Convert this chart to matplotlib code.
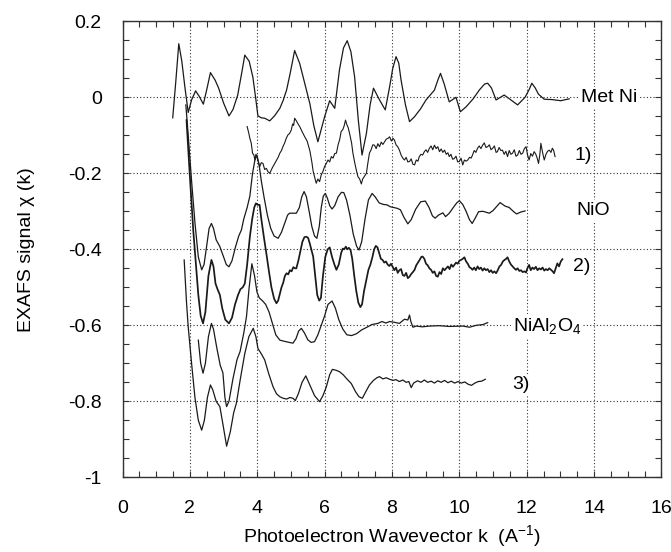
import matplotlib
matplotlib.use('Agg')
import matplotlib.pyplot as plt
from matplotlib.ticker import MultipleLocator, FuncFormatter

plt.rcParams['font.family'] = ['Liberation Sans', 'DejaVu Sans']
plt.rcParams['mathtext.fontset'] = 'custom'
plt.rcParams['mathtext.rm'] = 'Liberation Sans'
plt.rcParams['mathtext.it'] = 'Liberation Sans'

# Met Ni foil
k_ni = [1.49, 1.58, 1.67, 1.76, 1.85, 1.95, 2.05, 2.17, 2.28, 2.40, 2.50, 2.61, 2.75, 2.85,
        3.00, 3.16, 3.28, 3.42, 3.55, 3.63, 3.76, 3.87, 3.95, 4.02, 4.12, 4.22, 4.37, 4.52,
        4.67, 4.77, 4.87, 4.97, 5.11, 5.26, 5.40, 5.56, 5.68, 5.80, 6.00, 6.15, 6.30, 6.44,
        6.56, 6.67, 6.78, 6.89, 7.00, 7.11, 7.24, 7.35, 7.45, 7.63, 7.80, 7.93, 8.02, 8.12,
        8.20, 8.27, 8.40, 8.52, 8.67, 8.85, 9.01, 9.26, 9.36, 9.44, 9.55, 9.70, 9.90, 10.03,
        10.20, 10.40, 10.60, 10.75, 10.84, 10.95, 11.09, 11.33, 11.50, 11.73, 11.95, 12.07,
        12.15, 12.25, 12.35, 12.52, 12.75, 13.01, 13.26]
chi_ni = [-0.054, 0.040, 0.141, 0.095, 0.028, -0.040, -0.007, 0.017, 0.002, -0.018, 0.020,
          0.065, 0.045, 0.025, -0.015, -0.049, -0.032, 0.006, 0.070, 0.111, 0.095, 0.053,
          0.000, -0.049, -0.054, -0.055, -0.062, -0.048, -0.029, -0.008, 0.019, 0.060,
          0.123, 0.089, 0.040, -0.016, -0.075, -0.117, -0.051, -0.009, -0.029, 0.072,
          0.130, 0.149, 0.120, 0.054, -0.060, -0.152, -0.095, -0.020, 0.024, -0.007,
          -0.033, 0.028, 0.075, 0.107, 0.090, 0.045, -0.020, -0.064, -0.051, -0.030,
          -0.007, 0.019, 0.045, 0.063, 0.035, -0.012, 0.000, -0.038, -0.025, -0.005, 0.020,
          0.035, 0.037, 0.025, -0.007, 0.006, -0.005, -0.020, 0.000, 0.020, 0.037, 0.025,
          0.008, -0.005, -0.006, -0.009, -0.004]

# sample 1)
k_s1 = [3.70, 3.75, 3.78, 3.82, 3.86, 3.90, 3.93, 3.96, 3.99, 4.03, 4.07, 4.12, 4.17, 4.22,
        4.27, 4.32, 4.37, 4.45, 4.52, 4.58, 4.62, 4.67, 4.72, 4.77, 4.81, 4.86, 4.91, 4.96,
        5.01, 5.05, 5.08, 5.11, 5.16, 5.21, 5.26, 5.33, 5.41, 5.48, 5.56, 5.62, 5.66, 5.70,
        5.75, 5.80, 5.85, 5.90, 5.95, 6.00, 6.05, 6.10, 6.15, 6.20, 6.25, 6.30, 6.35, 6.40,
        6.45, 6.49, 6.54, 6.58, 6.62, 6.66, 6.70, 6.74, 6.80, 6.84, 6.90, 6.95, 6.99, 7.04,
        7.09, 7.13, 7.18, 7.24, 7.28, 7.33, 7.38, 7.43, 7.48, 7.53, 7.58, 7.63, 7.68, 7.73,
        7.78, 7.83, 7.88, 7.93, 7.98, 8.03, 8.07, 8.12, 8.17, 8.22, 8.27, 8.32, 8.37, 8.42,
        8.47, 8.52, 8.57, 8.62, 8.67, 8.72, 8.77, 8.81, 8.86, 8.91, 8.96, 9.01, 9.06, 9.11,
        9.16, 9.21, 9.26, 9.31, 9.36, 9.41, 9.46, 9.51, 9.56, 9.61, 9.66, 9.70, 9.75, 9.80,
        9.85, 9.90, 9.95, 10.00, 10.05, 10.10, 10.15, 10.20, 10.25, 10.30, 10.35, 10.39,
        10.44, 10.49, 10.54, 10.59, 10.64, 10.69, 10.74, 10.79, 10.84, 10.89, 10.94, 10.99,
        11.04, 11.09, 11.13, 11.18, 11.23, 11.28, 11.33, 11.38, 11.43, 11.48, 11.53, 11.58,
        11.63, 11.68, 11.73, 11.78, 11.83, 11.88, 11.93, 11.98, 12.02, 12.07, 12.12, 12.17,
        12.22, 12.27, 12.31, 12.35, 12.39, 12.42, 12.47, 12.52, 12.57, 12.62, 12.67, 12.72,
        12.76, 12.80, 12.84]
chi_s1 = [-0.077, -0.095, -0.108, -0.120, -0.147, -0.152, -0.165, -0.150, -0.156, -0.170,
          -0.183, -0.172, -0.174, -0.190, -0.187, -0.196, -0.200, -0.185, -0.174, -0.165,
          -0.158, -0.147, -0.140, -0.128, -0.121, -0.108, -0.099, -0.095, -0.086, -0.070,
          -0.074, -0.055, -0.062, -0.070, -0.077, -0.090, -0.104, -0.115, -0.140, -0.170,
          -0.195, -0.209, -0.226, -0.215, -0.222, -0.204, -0.195, -0.182, -0.174, -0.165,
          -0.170, -0.156, -0.160, -0.148, -0.147, -0.125, -0.110, -0.090, -0.085, -0.075,
          -0.060, -0.072, -0.080, -0.095, -0.120, -0.147, -0.175, -0.195, -0.209, -0.215,
          -0.228, -0.215, -0.208, -0.200, -0.175, -0.147, -0.138, -0.125, -0.126, -0.135,
          -0.122, -0.130, -0.118, -0.124, -0.117, -0.110, -0.108, -0.104, -0.115, -0.108,
          -0.112, -0.125, -0.130, -0.139, -0.152, -0.160, -0.165, -0.158, -0.170, -0.169,
          -0.162, -0.176, -0.178, -0.165, -0.168, -0.156, -0.150, -0.152, -0.143, -0.138,
          -0.145, -0.134, -0.128, -0.138, -0.126, -0.135, -0.130, -0.143, -0.136, -0.145,
          -0.139, -0.150, -0.146, -0.156, -0.150, -0.163, -0.161, -0.155, -0.170, -0.169,
          -0.160, -0.178, -0.165, -0.168, -0.165, -0.158, -0.160, -0.152, -0.140, -0.145,
          -0.134, -0.128, -0.135, -0.126, -0.120, -0.132, -0.130, -0.125, -0.138, -0.134,
          -0.128, -0.145, -0.143, -0.132, -0.140, -0.139, -0.150, -0.142, -0.156, -0.140,
          -0.150, -0.147, -0.138, -0.155, -0.152, -0.140, -0.150, -0.147, -0.135, -0.130,
          -0.150, -0.165, -0.148, -0.155, -0.143, -0.150, -0.160, -0.174, -0.150, -0.121,
          -0.145, -0.165, -0.150, -0.142, -0.139, -0.145, -0.134, -0.140, -0.156]

# NiO reference
k_nio = [1.88, 1.95, 2.05, 2.15, 2.25, 2.35, 2.42, 2.50, 2.57, 2.64, 2.70, 2.78, 2.89, 3.00,
         3.08, 3.16, 3.25, 3.35, 3.45, 3.53, 3.60, 3.70, 3.78, 3.86, 3.93, 3.99, 4.05, 4.12,
         4.20, 4.30, 4.40, 4.50, 4.62, 4.72, 4.82, 4.90, 4.96, 5.06, 5.16, 5.25, 5.32, 5.39,
         5.46, 5.54, 5.62, 5.70, 5.77, 5.84, 5.90, 5.96, 6.02, 6.08, 6.15, 6.22, 6.30, 6.40,
         6.50, 6.57, 6.65, 6.75, 6.85, 6.95, 7.02, 7.10, 7.20, 7.30, 7.41, 7.50, 7.62, 7.75,
         7.85, 7.95, 8.05, 8.15, 8.25, 8.35, 8.47, 8.57, 8.70, 8.85, 8.99, 9.10, 9.20, 9.28,
         9.38, 9.51, 9.59, 9.70, 9.82, 9.92, 10.00, 10.10, 10.20, 10.30, 10.38, 10.47, 10.57,
         10.70, 10.89, 11.00, 11.10, 11.21, 11.35, 11.48, 11.60, 11.70, 11.82, 11.95]
chi_nio = [-0.020, -0.100, -0.220, -0.330, -0.420, -0.454, -0.440, -0.390, -0.345, -0.332,
           -0.345, -0.375, -0.393, -0.420, -0.440, -0.446, -0.430, -0.395, -0.365, -0.349,
           -0.320, -0.290, -0.260, -0.200, -0.165, -0.152, -0.175, -0.220, -0.262, -0.310,
           -0.345, -0.365, -0.371, -0.355, -0.330, -0.310, -0.305, -0.305, -0.305, -0.290,
           -0.262, -0.248, -0.262, -0.300, -0.340, -0.365, -0.371, -0.340, -0.290, -0.260,
           -0.253, -0.265, -0.285, -0.294, -0.285, -0.262, -0.250, -0.251, -0.270, -0.310,
           -0.360, -0.392, -0.402, -0.380, -0.320, -0.270, -0.253, -0.262, -0.278, -0.282,
           -0.283, -0.288, -0.290, -0.292, -0.296, -0.315, -0.333, -0.322, -0.295, -0.275,
           -0.273, -0.290, -0.312, -0.318, -0.310, -0.304, -0.314, -0.305, -0.290, -0.278,
           -0.272, -0.282, -0.300, -0.322, -0.332, -0.318, -0.301, -0.300, -0.305, -0.298,
           -0.288, -0.277, -0.286, -0.290, -0.300, -0.307, -0.302, -0.299]

# sample 2)
k_s2 = [1.90, 1.98, 2.10, 2.25, 2.32, 2.39, 2.46, 2.55, 2.64, 2.70, 2.76, 2.82, 2.89, 2.96,
        3.05, 3.16, 3.25, 3.34, 3.43, 3.50, 3.57, 3.63, 3.70, 3.78, 3.85, 3.91, 3.96, 4.01,
        4.07, 4.12, 4.20, 4.27, 4.35, 4.42, 4.50, 4.57, 4.62, 4.67, 4.72, 4.77, 4.82, 4.87,
        4.92, 4.97, 5.02, 5.07, 5.12, 5.16, 5.22, 5.28, 5.34, 5.40, 5.46, 5.51, 5.56, 5.62,
        5.66, 5.72, 5.78, 5.84, 5.89, 5.95, 6.02, 6.09, 6.15, 6.22, 6.29, 6.35, 6.42, 6.49,
        6.54, 6.58, 6.63, 6.67, 6.72, 6.77, 6.82, 6.88, 6.94, 7.00, 7.06, 7.11, 7.17, 7.24,
        7.30, 7.36, 7.42, 7.47, 7.52, 7.57, 7.62, 7.67, 7.72, 7.77, 7.82, 7.87, 7.92, 7.97,
        8.02, 8.07, 8.12, 8.17, 8.22, 8.27, 8.32, 8.37, 8.42, 8.47, 8.52, 8.57, 8.62, 8.67,
        8.72, 8.77, 8.82, 8.87, 8.91, 8.96, 9.01, 9.06, 9.11, 9.16, 9.21, 9.26, 9.31, 9.36,
        9.41, 9.46, 9.51, 9.56, 9.61, 9.66, 9.71, 9.76, 9.81, 9.85, 9.90, 9.95, 10.00, 10.05,
        10.10, 10.15, 10.20, 10.25, 10.30, 10.35, 10.39, 10.44, 10.49, 10.54, 10.59, 10.64,
        10.69, 10.74, 10.79, 10.84, 10.89, 10.94, 10.99, 11.04, 11.09, 11.14, 11.19, 11.24,
        11.29, 11.34, 11.39, 11.43, 11.48, 11.53, 11.58, 11.63, 11.68, 11.73, 11.78, 11.83,
        11.88, 11.93, 11.98, 12.02, 12.07, 12.12, 12.17, 12.22, 12.27, 12.32, 12.37, 12.42,
        12.47, 12.52, 12.57, 12.62, 12.67, 12.72, 12.77, 12.81, 12.86, 12.91, 12.96, 13.01,
        13.06]
chi_s2 = [-0.060, -0.180, -0.350, -0.520, -0.575, -0.595, -0.565, -0.470, -0.428, -0.445,
          -0.490, -0.505, -0.520, -0.555, -0.585, -0.595, -0.580, -0.545, -0.520, -0.505,
          -0.500, -0.490, -0.440, -0.367, -0.320, -0.290, -0.279, -0.283, -0.283, -0.320,
          -0.370, -0.411, -0.460, -0.500, -0.530, -0.542, -0.535, -0.518, -0.500, -0.488,
          -0.470, -0.463, -0.466, -0.455, -0.458, -0.447, -0.450, -0.450, -0.430, -0.405,
          -0.380, -0.368, -0.367, -0.370, -0.385, -0.405, -0.419, -0.470, -0.520, -0.535,
          -0.528, -0.470, -0.420, -0.400, -0.395, -0.420, -0.440, -0.454, -0.440, -0.410,
          -0.398, -0.400, -0.393, -0.400, -0.396, -0.402, -0.425, -0.470, -0.510, -0.540,
          -0.552, -0.545, -0.510, -0.480, -0.454, -0.440, -0.420, -0.400, -0.391, -0.395,
          -0.410, -0.425, -0.428, -0.435, -0.432, -0.440, -0.444, -0.438, -0.446, -0.455,
          -0.448, -0.462, -0.455, -0.452, -0.468, -0.470, -0.462, -0.476, -0.472, -0.465,
          -0.460, -0.454, -0.442, -0.435, -0.428, -0.420, -0.419, -0.425, -0.438, -0.442,
          -0.450, -0.454, -0.462, -0.458, -0.470, -0.472, -0.460, -0.465, -0.450, -0.455,
          -0.450, -0.445, -0.452, -0.440, -0.446, -0.441, -0.435, -0.438, -0.430, -0.428,
          -0.425, -0.421, -0.432, -0.438, -0.447, -0.450, -0.454, -0.448, -0.455, -0.445,
          -0.452, -0.448, -0.456, -0.450, -0.455, -0.452, -0.460, -0.455, -0.462, -0.458,
          -0.463, -0.455, -0.445, -0.441, -0.432, -0.428, -0.425, -0.421, -0.432, -0.440,
          -0.445, -0.450, -0.454, -0.450, -0.457, -0.455, -0.460, -0.458, -0.461, -0.450,
          -0.441, -0.455, -0.448, -0.452, -0.446, -0.455, -0.450, -0.453, -0.448, -0.456,
          -0.452, -0.455, -0.450, -0.454, -0.458, -0.463, -0.450, -0.437, -0.445, -0.432,
          -0.426]

# NiAl2O4 reference
k_al = [2.25, 2.32, 2.39, 2.46, 2.55, 2.64, 2.70, 2.80, 2.90, 2.98, 3.04, 3.09, 3.16, 3.28,
        3.40, 3.49, 3.60, 3.68, 3.76, 3.84, 3.92, 3.99, 4.06, 4.15, 4.25, 4.35, 4.45, 4.55,
        4.67, 4.80, 4.95, 5.06, 5.15, 5.23, 5.31, 5.40, 5.50, 5.60, 5.70, 5.80, 5.90, 6.00,
        6.10, 6.22, 6.32, 6.42, 6.54, 6.66, 6.80, 6.95, 7.10, 7.28, 7.40, 7.58, 7.70, 7.82,
        7.93, 8.07, 8.22, 8.37, 8.47, 8.52, 8.56, 8.62, 8.72, 8.90, 9.11, 9.40, 9.70, 10.10,
        10.30, 10.50, 10.70, 10.84]
chi_al = [-0.639, -0.700, -0.726, -0.700, -0.630, -0.595, -0.610, -0.660, -0.705, -0.725,
          -0.790, -0.814, -0.800, -0.740, -0.690, -0.669, -0.620, -0.577, -0.500, -0.438,
          -0.470, -0.512, -0.528, -0.535, -0.545, -0.565, -0.595, -0.625, -0.639, -0.642,
          -0.645, -0.647, -0.635, -0.615, -0.608, -0.620, -0.638, -0.645, -0.643, -0.625,
          -0.600, -0.575, -0.545, -0.536, -0.555, -0.585, -0.610, -0.625, -0.627, -0.622,
          -0.612, -0.604, -0.598, -0.595, -0.590, -0.594, -0.590, -0.592, -0.595, -0.584,
          -0.586, -0.573, -0.590, -0.605, -0.602, -0.604, -0.602, -0.601, -0.603, -0.602,
          -0.605, -0.600, -0.598, -0.593]

# sample 3)
k_s3 = [1.83, 1.90, 1.95, 2.05, 2.15, 2.25, 2.35, 2.43, 2.52, 2.61, 2.68, 2.78, 2.89, 2.98,
        3.09, 3.20, 3.30, 3.38, 3.50, 3.63, 3.75, 3.88, 3.96, 4.02, 4.12, 4.22, 4.35, 4.47,
        4.57, 4.67, 4.77, 4.87, 4.97, 5.06, 5.13, 5.22, 5.33, 5.44, 5.55, 5.70, 5.85, 5.95,
        6.05, 6.15, 6.23, 6.33, 6.44, 6.55, 6.67, 6.79, 6.92, 7.02, 7.12, 7.22, 7.33, 7.45,
        7.55, 7.63, 7.73, 7.83, 7.93, 8.03, 8.12, 8.22, 8.32, 8.42, 8.50, 8.57, 8.64, 8.76,
        8.86, 8.96, 9.06, 9.16, 9.26, 9.36, 9.46, 9.56, 9.66, 9.76, 9.86, 9.96, 10.06, 10.16,
        10.26, 10.36, 10.46, 10.56, 10.66, 10.77]
chi_s3 = [-0.428, -0.540, -0.604, -0.700, -0.790, -0.850, -0.876, -0.850, -0.790, -0.757,
          -0.770, -0.800, -0.814, -0.860, -0.918, -0.880, -0.830, -0.805, -0.740, -0.674,
          -0.630, -0.608, -0.630, -0.661, -0.675, -0.691, -0.730, -0.762, -0.780, -0.788,
          -0.792, -0.794, -0.790, -0.792, -0.798, -0.780, -0.750, -0.733, -0.755, -0.785,
          -0.801, -0.785, -0.762, -0.730, -0.716, -0.718, -0.722, -0.730, -0.742, -0.753,
          -0.775, -0.788, -0.792, -0.775, -0.757, -0.745, -0.738, -0.735, -0.741, -0.738,
          -0.742, -0.745, -0.743, -0.748, -0.744, -0.750, -0.748, -0.764, -0.752, -0.746,
          -0.750, -0.744, -0.750, -0.747, -0.752, -0.746, -0.750, -0.745, -0.751, -0.747,
          -0.752, -0.748, -0.752, -0.749, -0.755, -0.758, -0.752, -0.748, -0.747, -0.742]

curve_names = ['Met Ni', '1)', 'NiO', '2)', 'NiAl$_2$O$_4$', '3)']
label_k = [14.45, 13.68, 13.98, 13.63, 12.6, 11.83]
label_chi = [0.0, -0.153, -0.298, -0.445, -0.602, -0.755]

fig = plt.figure(figsize=(6.71, 5.52), dpi=100)
ax = fig.add_axes([0.1826, 0.1353, 0.8032, 0.8261])

line_kw = dict(color='#1a1a1a', solid_joinstyle='round', zorder=3)
ax.plot(k_ni, chi_ni, lw=0.9, **line_kw)
ax.plot(k_s1, chi_s1, lw=0.8, **line_kw)
ax.plot(k_nio, chi_nio, lw=0.9, **line_kw)
ax.plot(k_s2, chi_s2, lw=1.25, **line_kw)
ax.plot(k_al, chi_al, lw=0.9, **line_kw)
ax.plot(k_s3, chi_s3, lw=0.9, **line_kw)

for name, xk, yc in zip(curve_names, label_k, label_chi):
    ax.text(xk, yc, name, fontsize=14, ha='center', va='center', zorder=4,
            bbox=dict(facecolor='white', edgecolor='none', pad=1.5))

ax.set_xlim(0, 16)
ax.set_ylim(-1, 0.2)
ax.xaxis.set_major_locator(MultipleLocator(2))
ax.xaxis.set_minor_locator(MultipleLocator(0.5))
ax.yaxis.set_major_locator(MultipleLocator(0.2))
ax.yaxis.set_minor_locator(MultipleLocator(0.05))


def fmt_y(v, pos):
    if abs(v) < 1e-9:
        return '0'
    return ('%.1f' % v).replace('-1.0', '-1')


ax.yaxis.set_major_formatter(FuncFormatter(fmt_y))
ax.xaxis.set_major_formatter(FuncFormatter(lambda v, p: '%d' % round(v)))

ax.tick_params(which='both', direction='in', top=True, right=True,
               length=4, width=0.8, color='#333333')
ax.tick_params(axis='x', which='major', labelsize=14, pad=16)
ax.tick_params(axis='y', which='major', labelsize=14, pad=15)

ax.set_axisbelow(True)
ax.grid(which='major', linestyle=(0, (1, 2)), color='#333333', linewidth=0.8)
for sp in ax.spines.values():
    sp.set_color('#333333')
    sp.set_linewidth(1.0)

ax.set_xlabel('Photoelectron Wavevector k  (A$^{-1}$)', fontsize=14, labelpad=5)
ax.set_ylabel('EXAFS signal \u03c7 (k)', fontsize=14, labelpad=24)

fig.savefig('out.png', dpi=100)
